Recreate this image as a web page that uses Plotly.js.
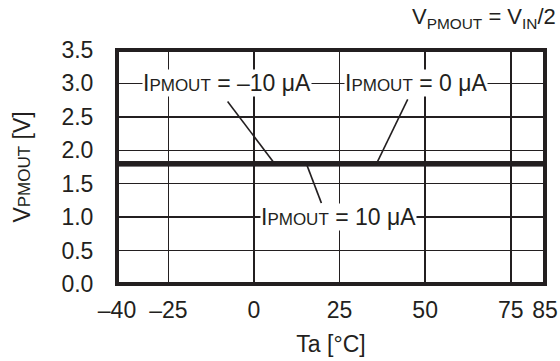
<!DOCTYPE html>
<html>
<head>
<meta charset="utf-8">
<script src="https://cdn.plot.ly/plotly-3.0.1.min.js"></script>
<style>html,body{margin:0;padding:0;background:#fff;}#chart{width:560px;height:361px;}</style>
</head>
<body>
<div id="chart"></div>
<script>
// Data
var temperature = [-40, 85];
var vpmout_m10uA = [1.8, 1.8];
var vpmout_0uA = [1.8, 1.8];
var vpmout_p10uA = [1.8, 1.8];

var xTickVals = [-40, -25, 0, 25, 50, 75, 85];
var xTickText = ['\u201340', '\u201325', '0', '25', '50', '75', '85'];
var yTickVals = [0, 0.5, 1, 1.5, 2, 2.5, 3, 3.5];
var yTickText = ['0.0', '0.5', '1.0', '1.5', '2.0', '2.5', '3.0', '3.5'];

// Label positions and leader lines [x0, y0, x1, y1] in data units
var labelTexts = ['I<span style="font-size:17px">PMOUT</span> = \u201310 \u03bcA',
                  'I<span style="font-size:17px">PMOUT</span> = 0 \u03bcA',
                  'I<span style="font-size:17px">PMOUT</span> = 10 \u03bcA'];
var labelX = [-32.6, 26.2, 1.8];
var labelY = [3.0, 3.0, 1.0];
var leaders = [[-7.7, 2.73, 6.05, 1.8], [44.9, 2.76, 35.8, 1.8], [15.3, 1.8, 19.7, 1.21]];

var ink = '#231f20';
var font = 'Liberation Sans, Arial, Helvetica, sans-serif';

var traces = [vpmout_m10uA, vpmout_0uA, vpmout_p10uA].map(function (v, i) {
  return {x: temperature, y: v, type: 'scatter', mode: 'lines',
          line: {color: ink, width: 5}, showlegend: false, hoverinfo: 'skip'};
});

var shapes = [{type: 'rect', xref: 'paper', yref: 'paper', x0: 0, x1: 1, y0: 0, y1: 1,
               line: {color: ink, width: 4}, layer: 'above'}];
leaders.forEach(function (l) {
  shapes.push({type: 'line', xref: 'x', yref: 'y', x0: l[0], y0: l[1], x1: l[2], y1: l[3],
               line: {color: ink, width: 1.6}, layer: 'above'});
});

var annotations = labelTexts.map(function (t, i) {
  return {text: t, x: labelX[i], y: labelY[i], xref: 'x', yref: 'y', xanchor: 'left', yanchor: 'middle',
          showarrow: false, bgcolor: '#ffffff', borderpad: 0, font: {family: font, size: 23, color: ink}};
});
annotations.push({text: 'V<sub>PMOUT</sub> = V<sub>IN</sub>/2', xref: 'paper', yref: 'paper',
                  x: 1.03, y: 1.135, xanchor: 'right', yanchor: 'middle', showarrow: false,
                  font: {family: font, size: 22, color: ink}});

var layout = {
  width: 560, height: 361,
  margin: {l: 117, r: 15, t: 50, b: 77, pad: 0},
  paper_bgcolor: '#ffffff', plot_bgcolor: '#ffffff',
  font: {family: font, size: 23, color: ink},
  xaxis: {range: [-40, 85], tickmode: 'array', tickvals: xTickVals, ticktext: xTickText,
          showgrid: true, gridcolor: ink, gridwidth: 1.5, zeroline: false, showline: false,
          ticks: 'outside', ticklen: 5, tickcolor: 'rgba(0,0,0,0)',
          tickfont: {family: font, size: 23, color: ink},
          title: {text: 'Ta [\u00b0C]', font: {family: font, size: 23, color: ink}, standoff: 14},
          automargin: false, fixedrange: true},
  yaxis: {range: [0, 3.5], tickmode: 'array', tickvals: yTickVals, ticktext: yTickText,
          showgrid: true, gridcolor: ink, gridwidth: 1.5, zeroline: false, showline: false,
          ticks: 'outside', ticklen: 18, tickcolor: 'rgba(0,0,0,0)',
          tickfont: {family: font, size: 23, color: ink},
          title: {text: 'V<span style="font-size:17px">PMOUT</span> [V]', font: {family: font, size: 23, color: ink}, standoff: 24},
          automargin: false, fixedrange: true},
  shapes: shapes,
  annotations: annotations
};

Plotly.newPlot('chart', traces, layout, {staticPlot: true, displayModeBar: false});
</script>
</body>
</html>
